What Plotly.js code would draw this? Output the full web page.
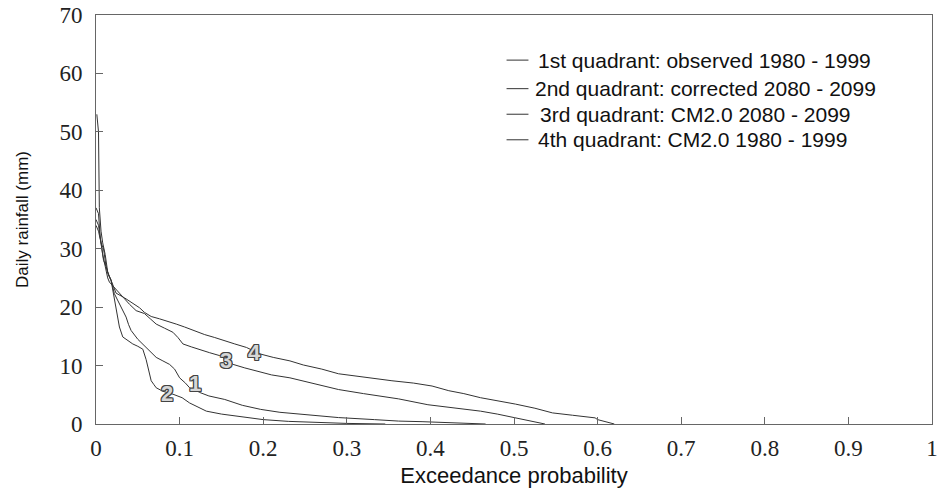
<!DOCTYPE html>
<html>
<head>
<meta charset="utf-8">
<script src="https://cdn.plot.ly/plotly-3.0.1.min.js"></script>
<style>html,body{margin:0;padding:0;background:#fff;}#chart{width:938px;height:496px;}</style>
</head>
<body>
<div id="chart"></div>
<script>
// Exceedance probability (x) vs daily rainfall in mm (y)
const seriesNames = [
  "1st quadrant: observed 1980 - 1999",
  "2nd quadrant: corrected 2080 - 2099",
  "3rd quadrant: CM2.0 2080 - 2099",
  "4th quadrant: CM2.0 1980 - 1999"
];
const curveLabels = ["1", "2", "3", "4"];

const obsX = [0.001, 0.003, 0.004, 0.006, 0.008, 0.011, 0.014, 0.018, 0.022, 0.029, 0.036, 0.039, 0.042, 0.05, 0.06, 0.066, 0.072, 0.08, 0.088, 0.094, 0.1, 0.107, 0.112, 0.118, 0.124, 0.135, 0.154, 0.175, 0.197, 0.22, 0.248, 0.29, 0.333, 0.362, 0.39, 0.418, 0.445, 0.466];
const obsY = [53, 50, 37, 33, 31, 29, 26, 24.6, 22.3, 20.3, 18.3, 17.0, 16.0, 14.5, 13.1, 12.4, 11.4, 10.8, 10.2, 9.4, 7.9, 7.0, 6.2, 5.9, 5.4, 4.8, 4.2, 3.2, 2.5, 2.0, 1.6, 1.1, 0.75, 0.5, 0.4, 0.3, 0.15, 0];

const corX = [0, 0.003, 0.005, 0.007, 0.009, 0.012, 0.015, 0.018, 0.022, 0.025, 0.028, 0.032, 0.038, 0.044, 0.05, 0.056, 0.06, 0.063, 0.066, 0.069, 0.072, 0.08, 0.092, 0.103, 0.112, 0.122, 0.132, 0.15, 0.172, 0.2, 0.23, 0.269, 0.3, 0.346];
const corY = [37, 36, 32, 30, 28, 27, 25.5, 24.6, 21.1, 18.5, 16.6, 14.9, 14.3, 13.7, 13.3, 12.8, 11.0, 9.0, 7.4, 6.8, 6.2, 5.6, 5.1, 4.5, 3.6, 2.9, 2.2, 1.7, 1.3, 0.75, 0.45, 0.2, 0.1, 0];

const futX = [0, 0.003, 0.006, 0.008, 0.011, 0.014, 0.016, 0.024, 0.032, 0.04, 0.048, 0.058, 0.065, 0.072, 0.082, 0.092, 0.098, 0.104, 0.114, 0.124, 0.136, 0.148, 0.156, 0.164, 0.178, 0.192, 0.21, 0.232, 0.26, 0.29, 0.32, 0.362, 0.397, 0.42, 0.442, 0.46, 0.48, 0.502, 0.52, 0.537];
const futY = [34, 33, 31, 29, 27, 25, 24.3, 23.0, 21.7, 20.5, 19.4, 18.9, 18.0, 17.1, 16.4, 15.7, 14.8, 13.7, 13.2, 12.8, 12.2, 11.7, 11.0, 10.2, 9.6, 9.1, 8.4, 7.9, 6.9, 5.9, 5.2, 4.3, 3.3, 2.9, 2.6, 2.2, 1.7, 1.0, 0.5, 0];

const histX = [0, 0.003, 0.006, 0.009, 0.012, 0.015, 0.018, 0.024, 0.034, 0.044, 0.052, 0.058, 0.066, 0.076, 0.086, 0.096, 0.106, 0.116, 0.13, 0.142, 0.152, 0.166, 0.18, 0.196, 0.212, 0.232, 0.248, 0.27, 0.29, 0.32, 0.354, 0.38, 0.402, 0.422, 0.44, 0.46, 0.48, 0.502, 0.525, 0.546, 0.57, 0.597, 0.6, 0.61, 0.62];
const histY = [35, 34, 31, 30, 27, 25.5, 24.6, 22.4, 21.6, 20.6, 19.9, 19.1, 18.4, 18.0, 17.6, 17.1, 16.6, 16.0, 15.3, 14.8, 14.3, 13.7, 13.1, 12.0, 11.4, 10.8, 10.1, 9.4, 8.6, 8.0, 7.4, 7.0, 6.5, 5.7, 5.2, 4.5, 4.0, 3.4, 2.7, 1.9, 1.5, 1.05, 0.75, 0.4, 0];

// positions of the curve number tags (x, y in data units)
const labelX = [0.119, 0.085, 0.155, 0.19];
const labelY = [7.0, 5.3, 10.8, 12.2];

const xTicks = [0, 0.1, 0.2, 0.3, 0.4, 0.5, 0.6, 0.7, 0.8, 0.9, 1];
const xTickText = ["0", "0.1", "0.2", "0.3", "0.4", "0.5", "0.6", "0.7", "0.8", "0.9", "1"];
const yTicks = [0, 10, 20, 30, 40, 50, 60, 70];

const LINE = "#333333";
const SANS = "Liberation Sans";
const SERIF = "Liberation Serif";
const xs = [obsX, corX, futX, histX];
const ys = [obsY, corY, futY, histY];

const traces = xs.map((x, i) => ({
  type: "scatter", mode: "lines", x: x, y: ys[i], name: seriesNames[i],
  line: {color: LINE, width: 1}, showlegend: false, hoverinfo: "skip"
}));

const outline = "1px 0 0 #444, -1px 0 0 #444, 0 1px 0 #444, 0 -1px 0 #444, 1px 1px 0 #444, -1px -1px 0 #444, 1px -1px 0 #444, -1px 1px 0 #444";
const annotations = curveLabels.map((t, i) => ({
  x: labelX[i], y: labelY[i], xref: "x", yref: "y", text: t, showarrow: false,
  font: {family: SANS, size: 22, color: "#d6d6d6", weight: "bold", shadow: outline}
}));

// legend rows: short line + text per row
const legRowY = [0.8897, 0.8199, 0.7574, 0.6949];
const legTextX = [0.5268, 0.5232, 0.5292, 0.5268];
const shapes = [];
seriesNames.forEach((n, i) => {
  annotations.push({
    x: legTextX[i], y: legRowY[i], xref: "paper", yref: "paper", xanchor: "left", yanchor: "middle",
    text: n, showarrow: false,
    font: {family: SANS, size: 21, color: "#111"}
  });
  shapes.push({type: "line", xref: "paper", yref: "paper", x0: 0.4911, x1: 0.5173,
    y0: legRowY[i], y1: legRowY[i], line: {color: LINE, width: 1}});
});

const axisCommon = {
  showgrid: false, zeroline: false, showline: true, linecolor: "#666", linewidth: 1,
  mirror: true, ticks: "inside", tickcolor: "#666", ticklen: 7, tickwidth: 1,
  ticklabeloverflow: "allow"
};

const layout = {
  width: 938, height: 496,
  margin: {l: 96, r: 6, t: 15, b: 72},
  paper_bgcolor: "#fff", plot_bgcolor: "#fff",
  showlegend: false,
  font: {family: SANS},
  xaxis: Object.assign({}, axisCommon, {
    range: [0, 1], tickvals: xTicks, ticktext: xTickText, ticklabelstandoff: 3,
    tickfont: {family: SERIF, size: 23, color: "#222"},
    title: {text: "Exceedance probability", standoff: 8,
      font: {family: SANS, size: 22, color: "#111"}}
  }),
  yaxis: Object.assign({}, axisCommon, {
    range: [0, 70], tickvals: yTicks, ticklabelstandoff: 8,
    tickfont: {family: SERIF, size: 23, color: "#222"},
    title: {text: "Daily rainfall (mm)", standoff: 26,
      font: {family: SANS, size: 17, color: "#111"}}
  }),
  annotations: annotations,
  shapes: shapes
};

Plotly.newPlot("chart", traces, layout, {displayModeBar: false, staticPlot: true});
</script>
</body>
</html>
